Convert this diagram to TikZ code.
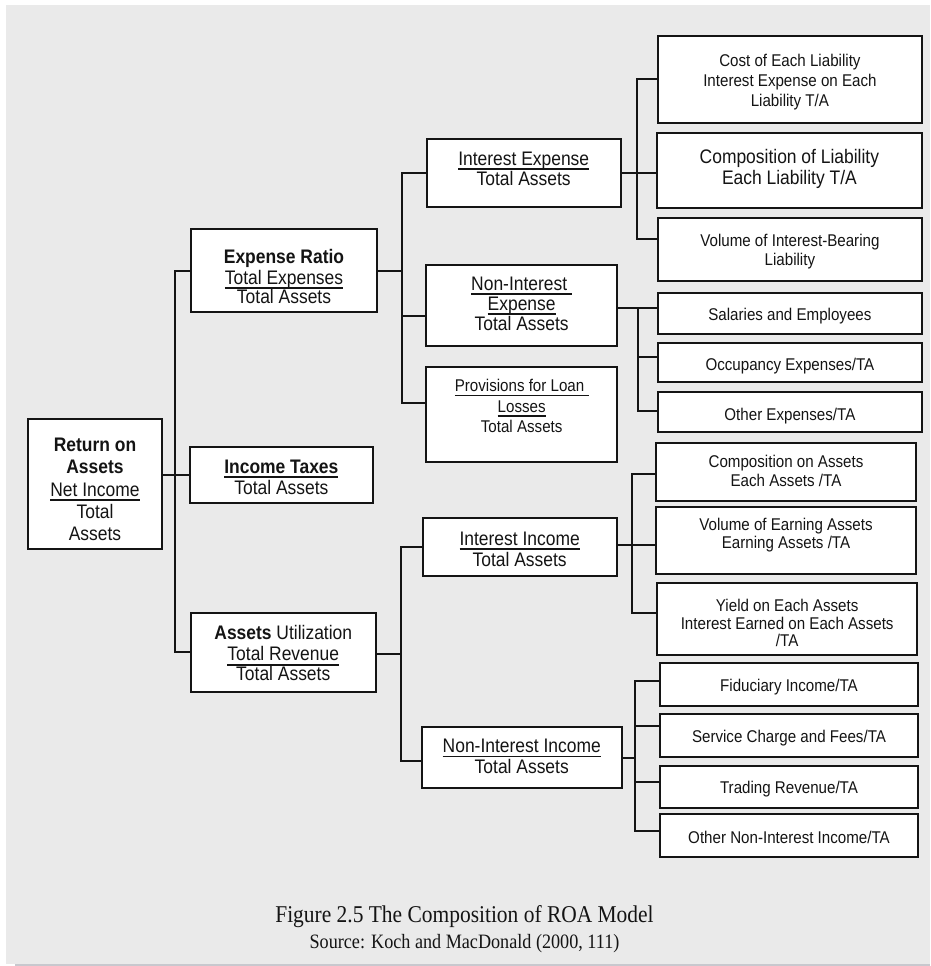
\documentclass[tikz,border=0pt]{standalone}
\usepackage{fontspec}
\setmainfont{Liberation Sans}[FakeStretch=0.89]
\newfontfamily\capfont{Liberation Serif}[FakeStretch=0.89]
\newsavebox\ulbox
\newcommand\ulx[1]{\sbox\ulbox{#1}\rlap{\smash{\rule[-4.6pt]{\wd\ulbox}{1.7pt}}}\usebox\ulbox}
\definecolor{bgc}{RGB}{234,234,234}
\definecolor{edgec}{RGB}{200,200,206}
\definecolor{ink}{RGB}{20,20,20}
\begin{document}
\begin{tikzpicture}[x=1pt,y=-1pt,
  box/.style={draw=ink, line width=2pt, fill=white, inner sep=0, outer sep=0},
  link/.style={draw=ink, line width=1.9pt, line cap=rect},
  tx/.style={inner sep=0, outer sep=0, align=center, anchor=north, text=ink, font=\fontsize{19.6}{#1}\selectfont},
  ts/.style={inner sep=0, outer sep=0, align=center, anchor=north, text=ink, font=\fontsize{17}{#1}\selectfont},
  tsb/.style={inner sep=0, outer sep=0, anchor=base, text=ink, font=\fontsize{17}{18}\selectfont},
  capt/.style={inner sep=0, outer sep=0, anchor=base, text=ink, font=\capfont\fontsize{#1}{24}\selectfont}]
\useasboundingbox (0,0) rectangle (930,966);
\fill[bgc] (6,5) rectangle (930,964);
\fill[edgec] (15,964) rectangle (930,966);

% ---------- boxes ----------
\node[box, minimum width=133.4, minimum height=129.7] (root) at (95,484.2) {};
\node[box, minimum width=185.4, minimum height=83.3] (er) at (284,270.65) {};
\node[box, minimum width=182.7, minimum height=56.3] (tax) at (281.35,474.85) {};
\node[box, minimum width=185.5, minimum height=79] (au) at (283.25,652.2) {};
\node[box, minimum width=194, minimum height=67.4] (ie) at (523.7,173) {};
\node[box, minimum width=191.3, minimum height=80.5] (ne) at (521.65,305.25) {};
\node[box, minimum width=191.3, minimum height=94.7] (pv) at (521.65,414.35) {};
\node[box, minimum width=194, minimum height=57.7] (ii) at (519.7,547.15) {};
\node[box, minimum width=199.9, minimum height=61.6] (nii) at (521.75,757.5) {};
\node[box, minimum width=263.2, minimum height=86.7] (a1) at (789.9,79.35) {};
\node[box, minimum width=264.2, minimum height=75] (a2) at (789.4,170.2) {};
\node[box, minimum width=263.2, minimum height=63] (a3) at (789.9,249.2) {};
\node[box, minimum width=263.2, minimum height=41.3] (s1) at (789.9,313.35) {};
\node[box, minimum width=263.2, minimum height=38.4] (s2) at (789.9,362.5) {};
\node[box, minimum width=263.2, minimum height=40.6] (s3) at (789.9,412) {};
\node[box, minimum width=260, minimum height=58] (b1) at (786,471.7) {};
\node[box, minimum width=260, minimum height=67.6] (b2) at (786,540.5) {};
\node[box, minimum width=259.7, minimum height=72.3] (b3) at (787.15,618.85) {};
\node[box, minimum width=258, minimum height=42.4] (c1) at (789,684.5) {};
\node[box, minimum width=258, minimum height=43] (c2) at (789,735.8) {};
\node[box, minimum width=258, minimum height=42.6] (c3) at (789,787) {};
\node[box, minimum width=258, minimum height=43] (c4) at (789,835.8) {};

% ---------- texts ----------
\node[tx=22.2] (root-t) at (95,436.2) {\strut\textbf{Return on}\\\textbf{Assets}\\\ulx{Net Income}\\Total\\Assets\strut};
\node[tx=19.5] (er-t) at (284,249.05) {\strut\textbf{Expense Ratio}\\\ulx{Total Expenses}\\Total Assets\strut};
\node[tx=20] (tax-t) at (281.35,459) {\strut\ulx{\textbf{Income Taxes}}\\Total Assets\strut};
\node[tx=19.5] (au-t) at (283.25,625.65) {\strut\textbf{Assets} Utilization\\\ulx{Total Revenue}\\Total Assets\strut};
\node[tx=20.5] (ie-t) at (523.7,150.65) {\strut\ulx{Interest Expense}\\Total Assets\strut};
\node[tx=20] (ne-t) at (521.65,276) {\strut\ulx{Non-Interest\ }\\\ulx{Expense}\\Total Assets\strut};
\node[ts=20.5] (pv-t) at (521.65,377.35) {\strut\ulx{Provisions for Loan\ }\\\ulx{Losses}\\Total Assets\strut};
\node[tx=19] (ii-t) at (519.7,531.7) {\strut\ulx{Interest Income}\\Total Assets\strut};
\node[tx=20] (nii-t) at (521.75,738.7) {\strut\ulx{Non-Interest Income}\\Total Assets\strut};
\node[ts=20.3] (a1-t) at (789.9,51.8) {\strut Cost of Each Liability\\Interest Expense on Each\\Liability T/A\strut};
\node[tx=20] (a2-t) at (789.4,149.3) {\strut Composition of Liability\\Each Liability T/A\strut};
\node[ts=18.4] (a3-t) at (789.9,234.1) {\strut Volume of Interest-Bearing\\Liability\strut};
\node[tsb] (s1-t) at (789.9,320) {Salaries and Employees};
\node[tsb] (s2-t) at (789.9,370) {Occupancy Expenses/TA};
\node[tsb] (s3-t) at (789.9,420) {Other Expenses/TA};
\node[ts=17.4] (b1-t) at (786,455.5) {\strut Composition on Assets\\Each Assets /TA\strut};
\node[ts=18.3] (b2-t) at (786,517.2) {\strut Volume of Earning Assets\\Earning Assets /TA\strut};
\node[ts=17.2] (b3-t) at (787.15,598.7) {\strut Yield on Each Assets\\Interest Earned on Each Assets\\/TA\strut};
\node[tsb] (c1-t) at (789,691.7) {Fiduciary Income/TA};
\node[tsb] (c2-t) at (789,742.7) {Service Charge and Fees/TA};
\node[tsb] (c3-t) at (789,793.3) {Trading Revenue/TA};
\node[tsb] (c4-t) at (789,843.3) {Other Non-Interest Income/TA};

\node[capt=24.1] (cap1) at (464.5,922.7) {Figure 2.5 The Composition of ROA Model};
\node[capt=20.4] (cap2) at (464.5,948.3) {Source: Koch and MacDonald (2000, 111)};

% ---------- connectors ----------
% level 1
\coordinate (j1a) at (175,270.65);
\coordinate (j1b) at (175,652.2);
\draw[link] (er.west) -- (j1a) -- (j1b) -- (au.west);
\draw[link] (root.east |- tax.west) -- (tax.west);
% expense ratio
\coordinate (j2a) at (402.3,173);
\coordinate (j2b) at (402.3,403.3);
\coordinate (j2c) at (402.3,316);
\draw[link] (er.east) -- (er.east -| j2a);
\draw[link] (ie.west) -- (j2a) -- (j2b) -- (j2b -| pv.west);
\draw[link] (j2c) -- (j2c -| ne.west);
% interest expense
\coordinate (j3a) at (636.7,79.35);
\coordinate (j3b) at (636.7,239.3);
\draw[link] (a1.west) -- (j3a) -- (j3b) -- (j3b -| a3.west);
\draw[link] (ie.east) -- (ie.east -| a2.west);
% non-interest expense
\coordinate (j4a) at (638.3,308.3);
\coordinate (j4b) at (638.3,356.7);
\coordinate (j4c) at (638.3,410.7);
\draw[link] (ne.east |- j4a) -- (j4a -| s1.west);
\draw[link] (j4a) -- (j4c) -- (j4c -| s3.west);
\draw[link] (j4b) -- (j4b -| s2.west);
% interest income
\coordinate (j5a) at (631.7,474);
\coordinate (j5b) at (631.7,545);
\coordinate (j5c) at (631.7,612.7);
\draw[link] (j5a -| b1.west) -- (j5a) -- (j5c) -- (j5c -| b3.west);
\draw[link] (ii.east |- j5b) -- (j5b -| b2.west);
% assets utilization
\coordinate (j6a) at (400.7,547.15);
\coordinate (j6b) at (400.7,761);
\coordinate (j6c) at (400.7,654);
\draw[link] (au.east |- j6c) -- (j6c);
\draw[link] (ii.west) -- (j6a) -- (j6b) -- (j6b -| nii.west);
% non-interest income
\coordinate (j7a) at (635,681);
\coordinate (j7b) at (635,726);
\coordinate (j7c) at (635,782.3);
\coordinate (j7d) at (635,830.7);
\coordinate (j7e) at (635,758.3);
\draw[link] (nii.east |- j7e) -- (j7e);
\draw[link] (j7a -| c1.west) -- (j7a) -- (j7d) -- (j7d -| c4.west);
\draw[link] (j7b) -- (j7b -| c2.west);
\draw[link] (j7c) -- (j7c -| c3.west);
\end{tikzpicture}
\end{document}
